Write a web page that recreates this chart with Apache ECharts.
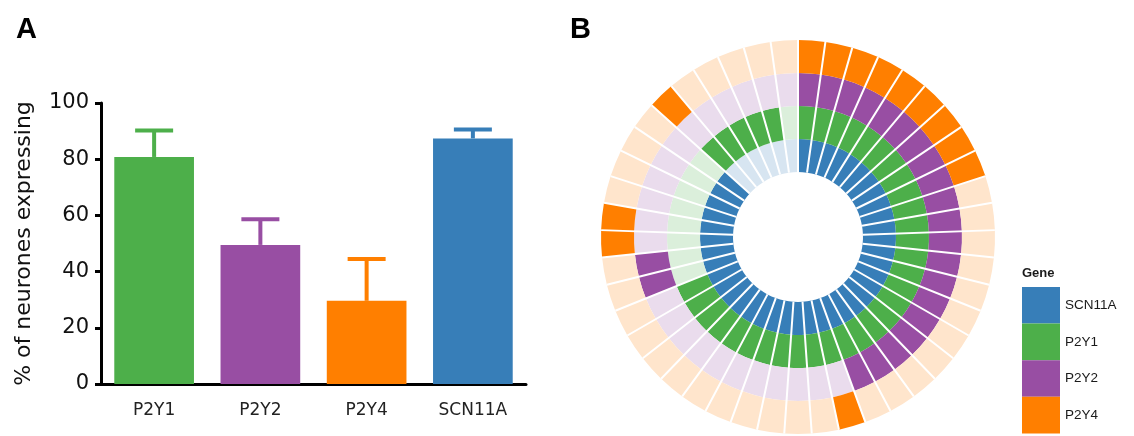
<!DOCTYPE html>
<html>
<head>
<meta charset="utf-8">
<script src="https://cdn.jsdelivr.net/npm/echarts@6/dist/echarts.min.js"></script>
<style>
html,body{margin:0;padding:0;background:#fff;}
#chart{width:1134px;height:436px;}
</style>
</head>
<body>
<div id="chart"></div>
<script>
// ---- Panel A data ----
const genes = ['P2Y1', 'P2Y2', 'P2Y4', 'SCN11A'];
const meanPct = [80.8, 49.5, 29.6, 87.4];
const semPct = [9.4, 9.1, 14.9, 3.2];
const yTicks = [0, 20, 40, 60, 80, 100];

// ---- Panel B data (45 neurones, clockwise from 12 o'clock; 1 = expressing) ----
const neurones = ['1','2','3','4','5','6','7','8','9','10','11','12','13','14','15','16','17','18','19','20','21','22','23','24','25','26','27','28','29','30','31','32','33','34','35','36','37','38','39','40','41','42','43','44','45'];
const ringGenes = ['SCN11A', 'P2Y1', 'P2Y2', 'P2Y4'];
const exprSCN11A = [1,1,1,1,1,1,1,1,1,1, 1,1,1,1,1,1,1,1,1,1, 1,1,1,1,1,1,1,1,1,1, 1,1,1,1,1,1,1,1,1,0, 0,0,0,0,0];
const exprP2Y1   = [1,1,1,1,1,1,1,1,1,1, 1,1,1,1,1,1,1,1,1,1, 1,1,1,1,1,1,1,1,1,1, 1,0,0,0,0,0,0,0,0,1, 1,1,1,1,0];
const exprP2Y2   = [1,1,1,1,1,1,1,1,1,1, 1,1,1,1,1,1,1,1,1,1, 0,0,0,0,0,0,0,0,0,0, 0,1,1,0,0,0,0,0,0,0, 0,0,0,0,0];
const exprP2Y4   = [1,1,1,1,1,1,1,1,1,0, 0,0,0,0,0,0,0,0,0,0, 1,0,0,0,0,0,0,0,0,0, 0,0,0,1,1,0,0,0,0,1, 0,0,0,0,0];

const colors = {SCN11A: '#377EB8', P2Y1: '#4DAF4A', P2Y2: '#984EA3', P2Y4: '#FF7F00'};
const lightColors = {SCN11A: '#D7E5F1', P2Y1: '#DBEFDB', P2Y2: '#EADCED', P2Y4: '#FFE5CC'};
const exprByGene = {SCN11A: exprSCN11A, P2Y1: exprP2Y1, P2Y2: exprP2Y2, P2Y4: exprP2Y4};

const chart = echarts.init(document.getElementById('chart'), null, {renderer: 'canvas'});

const ringSeries = ringGenes.map(g => ({
  name: g,
  type: 'bar',
  coordinateSystem: 'polar',
  stack: 'rings',
  barCategoryGap: '0%',
  itemStyle: {color: colors[g]},
  emphasis: {disabled: true},
  data: exprByGene[g].map(v => ({value: 1, itemStyle: {color: v ? colors[g] : lightColors[g]}}))
}));

const option = {
  animation: false,
  title: [
    {text: 'A', left: 11, top: 10, textStyle: {fontFamily: 'Liberation Sans, Arial', fontWeight: 'bold', fontSize: 29, color: '#000'}},
    {text: 'B', left: 565, top: 10, textStyle: {fontFamily: 'Liberation Sans, Arial', fontWeight: 'bold', fontSize: 29, color: '#000'}},
    {text: 'Gene', left: 1017, top: 262, textStyle: {fontFamily: 'Liberation Sans, Arial', fontWeight: 'bold', fontSize: 13, color: '#1a1a1a'}}
  ],
  legend: {
    orient: 'vertical',
    left: 1022,
    top: 287,
    padding: 0,
    itemWidth: 38,
    itemHeight: 36.6,
    itemGap: 0,
    icon: 'rect',
    selectedMode: false,
    data: ringGenes,
    textStyle: {fontFamily: 'Liberation Sans, Arial', fontSize: 13.5, color: '#1a1a1a', padding: [8, 0, 0, 0]}
  },
  grid: {left: 101, right: 608, top: 103, bottom: 52, containLabel: false},
  xAxis: {
    type: 'category',
    data: genes,
    axisLine: {lineStyle: {color: '#000', width: 3}},
    axisTick: {alignWithLabel: true, length: 7, lineStyle: {color: '#000', width: 3}},
    axisLabel: {fontFamily: 'DejaVu Sans', fontSize: 17, color: '#222', margin: 18}
  },
  yAxis: {
    type: 'value',
    min: 0, max: 100, interval: 20,
    name: '% of neurones expressing',
    nameLocation: 'middle',
    nameRotate: 90,
    nameGap: 66,
    nameTextStyle: {fontFamily: 'DejaVu Sans', fontSize: 22, color: '#111'},
    axisLine: {show: true, lineStyle: {color: '#000', width: 3}},
    axisTick: {show: true, length: 6, lineStyle: {color: '#000', width: 3}},
    axisLabel: {fontFamily: 'DejaVu Sans', fontSize: 21, color: '#111', margin: 12,
      customValues: yTicks},
    splitLine: {show: false}
  },
  polar: {center: [798, 237], radius: [65, 197]},
  angleAxis: {
    type: 'category',
    data: neurones,
    startAngle: 90,
    clockwise: true,
    boundaryGap: true,
    z: 10,
    axisLine: {show: false},
    axisTick: {show: false, interval: 0},
    axisLabel: {show: false, interval: 0},
    splitLine: {show: true, interval: 0, lineStyle: {color: '#fff', width: 2}}
  },
  radiusAxis: {
    type: 'value', min: 0, max: 4,
    axisLine: {show: false}, axisTick: {show: false}, axisLabel: {show: false},
    splitLine: {show: false}
  },
  series: [
    {
      name: 'mean',
      type: 'bar',
      barCategoryGap: '25%',
      emphasis: {disabled: true},
      data: meanPct.map((v, i) => ({value: v, itemStyle: {color: colors[genes[i]]}}))
    },
    {
      name: 'sem',
      type: 'custom',
      z: 1,
      renderItem: function (params, api) {
        const i = api.value(0);
        const m = api.value(1);
        const e = api.value(2);
        const base = api.coord([i, m]);
        const top = api.coord([i, m + e]);
        const half = 19;
        const c = colors[genes[i]];
        return {
          type: 'group',
          children: [
            {type: 'line', shape: {x1: base[0], y1: base[1], x2: top[0], y2: top[1]}, style: {stroke: c, lineWidth: 4}},
            {type: 'line', shape: {x1: top[0] - half, y1: top[1], x2: top[0] + half, y2: top[1]}, style: {stroke: c, lineWidth: 4}}
          ]
        };
      },
      encode: {x: 0, y: 1},
      data: meanPct.map((v, i) => [i, v, semPct[i]])
    }
  ].concat(ringSeries)
};
chart.setOption(option);
</script>
</body>
</html>
